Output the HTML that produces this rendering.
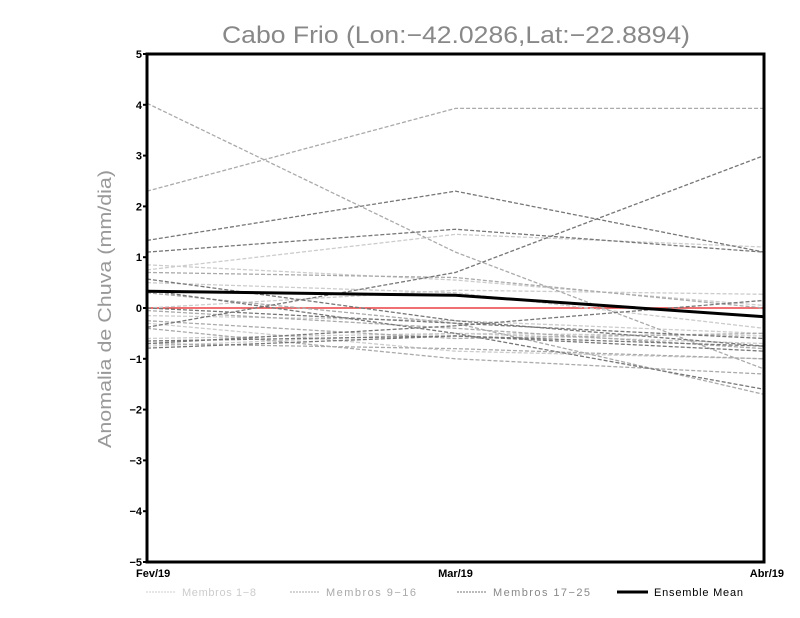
<!DOCTYPE html>
<html><head><meta charset="utf-8"><style>
html,body{margin:0;padding:0;background:#fff;width:800px;height:618px;overflow:hidden}
svg{display:block;font-family:"Liberation Sans",sans-serif}
</style></head><body>
<svg id="chart" width="800" height="618" viewBox="0 0 800 618">
<text x="222" y="43" textLength="468" lengthAdjust="spacingAndGlyphs" font-size="24" fill="#888">Cabo Frio (Lon:−42.0286,Lat:−22.8894)</text>
<text transform="translate(111,448) rotate(-90)" textLength="278" lengthAdjust="spacingAndGlyphs" font-size="18" fill="#999">Anomalia de Chuva (mm/dia)</text>
<g id="grid"></g>
<g id="series"></g>
<rect x="147" y="54" width="617" height="508" fill="none" stroke="#000" stroke-width="3"/>
<g id="ticks"></g>
<g id="legend" font-size="11">
<line x1="146" y1="592" x2="176" y2="592" stroke="#ccc" stroke-dasharray="2,1"/>
<text x="182" y="596" fill="#ccc" textLength="74">Membros 1−8</text>
<line x1="290" y1="592" x2="320" y2="592" stroke="#aaa" stroke-dasharray="2,1"/>
<text x="326" y="596" fill="#aaa" textLength="90">Membros 9−16</text>
<line x1="457" y1="592" x2="487" y2="592" stroke="#777" stroke-dasharray="2,1"/>
<text x="493" y="596" fill="#888" textLength="97">Membros 17−25</text>
<line x1="617" y1="592" x2="648" y2="592" stroke="#000" stroke-width="3"/>
<text x="654" y="596" fill="#000" textLength="89">Ensemble Mean</text>
</g>
</svg>
<script>
const categories = ["Fev/19","Mar/19","Abr/19"];
const yTicks = [-5,-4,-3,-2,-1,0,1,2,3,4,5];
const members1to8 = [[0.75,1.45,1.2],[0.85,0.55,0.05],[0.0,0.35,0.27],[-0.15,-0.25,-0.5],[-0.3,-0.85,-1.0],[0.5,0.3,-0.4],[-0.6,-0.5,-0.7],[-0.75,-0.5,-0.55]];
const members9to16 = [[4.03,1.1,-1.2],[2.3,3.93,3.93],[0.7,0.6,0.0],[-0.05,-0.4,-0.8],[-0.7,-0.8,-1.0],[0.3,-0.3,-1.7],[-0.25,-0.6,-0.5],[-0.4,-1.0,-1.3]];
const members17to25 = [[1.33,2.3,1.1],[1.1,1.55,1.1],[-0.38,0.7,3.0],[0.57,-0.25,-0.75],[0.35,-0.5,-1.6],[-0.7,-0.35,0.15],[-0.65,-0.55,-0.85],[-0.79,-0.55,-0.75],[0.0,-0.3,-0.6]];
const ensembleMean = [0.33,0.25,-0.17];
const NS="http://www.w3.org/2000/svg";
const X0=147,X1=764,Y0=562,Y1=54;
const xs=i=>X0+(X1-X0)*i/(categories.length-1);
const ys=v=>Y0-(v+5)/10*(Y0-Y1);
function mk(tag,attrs,parent){const e=document.createElementNS(NS,tag);for(const k in attrs)e.setAttribute(k,attrs[k]);parent.appendChild(e);return e;}
const series=document.getElementById('series'),ticks=document.getElementById('ticks');
const zl=mk('line',{x1:X0,x2:X1,y1:ys(0),y2:ys(0),stroke:'#e84040','stroke-width':1.5},series);


function drawGroup(arr,color,name){arr.forEach((s,j)=>{const p=mk('polyline',{points:s.map((v,i)=>xs(i)+','+ys(v)).join(' '),fill:'none',stroke:color,'stroke-width':1.3,'stroke-dasharray':'4,2'},series);

});}
drawGroup(members1to8,'#ccc','member-light');
drawGroup(members9to16,'#aaa','member-mid');
drawGroup(members17to25,'#777','member-dark');
const m=mk('polyline',{points:ensembleMean.map((v,i)=>xs(i)+','+ys(v)).join(' '),fill:'none',stroke:'#000','stroke-width':3},series);


yTicks.forEach(t=>{const y=ys(t);
const l=mk('line',{x1:X0-4,x2:X0,y1:y,y2:y,stroke:'#000','stroke-width':2},ticks);


const tx=mk('text',{x:X0-5,y:y+4,'text-anchor':'end','font-size':11,'font-weight':'bold',fill:'#000'},ticks);
tx.textContent=t<0?'−'+(-t):String(t);

});
categories.forEach((c,i)=>{const x=xs(i);
const anchor=i===0?'start':(i===categories.length-1?'end':'middle');
const tx=mk('text',{x:i===0?x-11:(i===categories.length-1?x+20:x),y:577,'text-anchor':anchor,'font-size':11,'font-weight':'bold',fill:'#000'},ticks);
tx.textContent=c;

});
</script>
</body></html>
